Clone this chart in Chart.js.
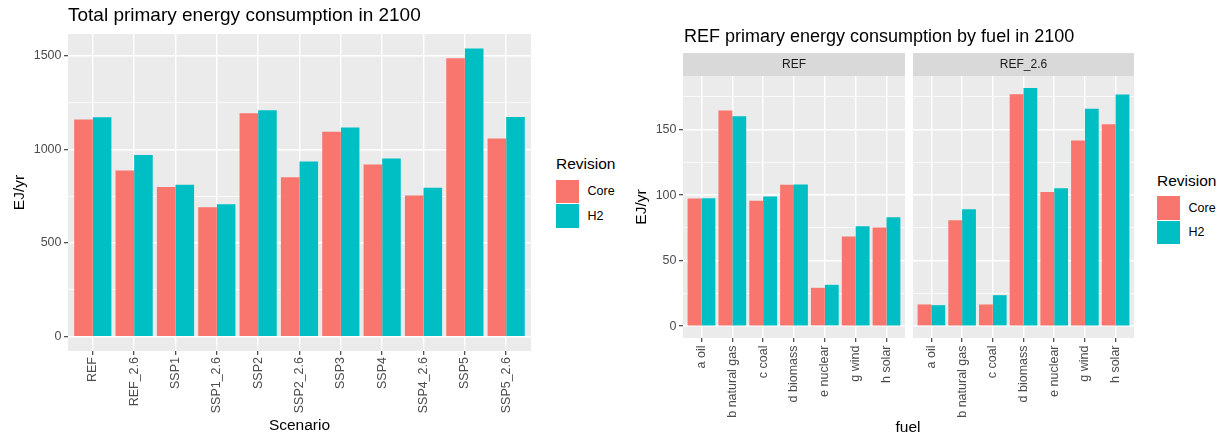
<!DOCTYPE html>
<html>
<head>
<meta charset="utf-8">
<script src="https://cdn.jsdelivr.net/npm/chart.js@4/dist/chart.umd.min.js"></script>
<style>
  html, body { margin: 0; padding: 0; background: #fff; }
  body { width: 1217px; height: 435px; position: relative; overflow: hidden;
         font-family: "Liberation Sans", Arial, sans-serif; }
  canvas { position: absolute; top: 0; }
  .txt { position: absolute; line-height: 1; white-space: nowrap; color: #000; }
  .key { position: absolute; width: 23px; height: 23.5px; }
</style>
</head>
<body>
<canvas id="totalChart" width="545" height="435" style="left:0px"></canvas>
<canvas id="fuelRefChart" width="290" height="435" style="left:620px"></canvas>
<canvas id="fuelRef26Chart" width="230" height="435" style="left:910px"></canvas>
<div class="txt" style="left:684px; top:26.5px; font-size:18px">REF primary energy consumption by fuel in 2100</div>
<div class="txt" style="left:908px; top:418.6px; font-size:15.5px; transform:translateX(-50%)">fuel</div>

<script>
// Total primary energy consumption in 2100 (EJ/yr), by scenario
const scenarios = ['REF', 'REF_2.6', 'SSP1', 'SSP1_2.6', 'SSP2', 'SSP2_2.6', 'SSP3', 'SSP4', 'SSP4_2.6', 'SSP5', 'SSP5_2.6'];
const totalCore = [1160, 888, 799, 691, 1193, 851, 1094, 919, 754, 1488, 1058];
const totalH2   = [1172, 971, 812, 707, 1210, 935, 1118, 952, 796, 1540, 1174];

// REF / REF_2.6 primary energy by fuel in 2100 (EJ/yr)
const fuels = ['a oil', 'b natural gas', 'c coal', 'd biomass', 'e nuclear', 'g wind', 'h solar'];
const refCore   = [97.3, 164.5, 95.7, 107.9, 29.2, 68.3, 75.2];
const refH2     = [97.5, 160.2, 99.0, 108.1, 31.5, 76.2, 83.0];
const ref26Core = [16.5, 80.7, 16.5, 176.9, 102.3, 141.7, 154.1];
const ref26H2   = [16.0, 89.1, 23.6, 181.8, 105.3, 165.8, 176.7];

// Axis ticks (major labelled, minor grid only)
const totalTicks = [0, 500, 1000, 1500];
const totalMinor = [250, 750, 1250];
const fuelTicks  = [0, 50, 100, 150];
const fuelMinor  = [25, 75, 125, 175];

const revisions = ['Core', 'H2'];
const revisionColors = ['#F8766D', '#00BFC4'];

const FONT = '"Liberation Sans", Arial, sans-serif';
Chart.defaults.font.family = FONT;

// Grey panel background plus optional facet strip above the plot area
const panelBg = {
  id: 'panelBg',
  beforeDraw(chart, args, opts) {
    const { ctx, chartArea: a } = chart;
    ctx.save();
    ctx.fillStyle = '#EBEBEB';
    ctx.fillRect(a.left, a.top, a.right - a.left, a.bottom - a.top);
    if (opts.strip) {
      ctx.fillStyle = '#D9D9D9';
      ctx.fillRect(a.left, a.top - 23, a.right - a.left, 23);
      ctx.fillStyle = '#1A1A1A';
      ctx.font = '12px ' + FONT;
      ctx.textAlign = 'center';
      ctx.textBaseline = 'middle';
      ctx.fillText(opts.strip, (a.left + a.right) / 2, a.top - 11.5);
    }
    ctx.restore();
  }
};

// ggplot-style 5% expansion of a continuous axis starting at zero
function expandedRange(values) {
  const max = Math.max(...values);
  return { min: -0.05 * max, max: 1.05 * max };
}

function yScale({ range, major, minor, width, titlePad, showLabels }) {
  const all = [...major, ...minor].sort((a, b) => a - b);
  const isMajor = c => c.tick && major.includes(c.tick.value);
  return {
    type: 'linear',
    min: range.min,
    max: range.max,
    afterBuildTicks: s => { s.ticks = all.map(v => ({ value: v })); },
    afterFit: s => { s.width = width; },
    border: { display: false },
    grid: {
      offset: false,
      color: '#FFFFFF',
      lineWidth: c => isMajor(c) ? 1.4 : 0.7,
      drawTicks: showLabels,
      tickLength: 4,
      tickWidth: 1.1,
      tickColor: c => isMajor(c) ? '#333333' : 'rgba(0,0,0,0)'
    },
    ticks: {
      display: showLabels,
      padding: 2.5,
      color: '#4D4D4D',
      font: { size: 12.5 },
      callback: v => major.includes(v) ? String(v) : ''
    },
    title: showLabels
      ? { display: true, text: 'EJ/yr', color: '#000', font: { size: 15.5 }, padding: { top: titlePad, bottom: 0 } }
      : { display: false }
  };
}

function xScale({ labels, height, padding, title }) {
  return {
    type: 'linear',
    min: -0.6,
    max: labels.length - 0.4,
    offset: false,
    afterBuildTicks: s => { s.ticks = labels.map((_, i) => ({ value: i })); },
    afterFit: s => { s.height = height; },
    border: { display: false },
    grid: { offset: false, color: '#FFFFFF', lineWidth: 1.4, drawTicks: true, tickLength: 4, tickWidth: 1.1, tickColor: '#333333' },
    ticks: {
      autoSkip: false, minRotation: 90, maxRotation: 90, padding,
      color: '#4D4D4D', font: { size: 12.5 },
      callback: v => labels[v]
    },
    title: title
      ? { display: true, text: title, color: '#000', font: { size: 15.5 }, padding: { top: 0, bottom: 0 } }
      : { display: false }
  };
}

function barSets(core, h2) {
  return [core, h2].map((vals, k) => ({
    label: revisions[k],
    data: vals.map((y, i) => ({ x: i, y })),
    backgroundColor: revisionColors[k],
    borderWidth: 0,
    categoryPercentage: 0.9,
    barPercentage: 1.0
  }));
}

function baseOptions() {
  return {
    responsive: false,
    animation: false,
    events: [],
    plugins: { legend: { display: false }, tooltip: { enabled: false } }
  };
}

// Left: totals by scenario
const totalOpts = baseOptions();
totalOpts.layout = { padding: { left: 0, right: 14, top: 0, bottom: 0 } };
totalOpts.plugins.title = {
  display: true, text: 'Total primary energy consumption in 2100',
  align: 'start', fullSize: false, color: '#000',
  font: { size: 19, weight: 'normal' }, padding: { top: 4.7, bottom: 6.5 }
};
totalOpts.plugins.panelBg = {};
totalOpts.scales = {
  x: xScale({ labels: scenarios, height: 84, padding: 2, title: 'Scenario' }),
  y: yScale({ range: expandedRange([...totalCore, ...totalH2]), major: totalTicks, minor: totalMinor,
              width: 68, titlePad: 10.7, showLabels: true })
};
new Chart(document.getElementById('totalChart'), {
  type: 'bar',
  data: { datasets: barSets(totalCore, totalH2) },
  options: totalOpts,
  plugins: [panelBg]
});

// Right: fuel breakdown, one facet per scenario with a shared y range
const fuelRange = expandedRange([...refCore, ...refH2, ...ref26Core, ...ref26H2]);

const refOpts = baseOptions();
refOpts.layout = { padding: { left: 0, right: 5, top: 76, bottom: 0 } };
refOpts.plugins.panelBg = { strip: 'REF' };
refOpts.scales = {
  x: xScale({ labels: fuels, height: 97, padding: 3.5 }),
  y: yScale({ range: fuelRange, major: fuelTicks, minor: fuelMinor, width: 63, titlePad: 12.7, showLabels: true })
};
new Chart(document.getElementById('fuelRefChart'), {
  type: 'bar',
  data: { datasets: barSets(refCore, refH2) },
  options: refOpts,
  plugins: [panelBg]
});

const ref26Opts = baseOptions();
ref26Opts.layout = { padding: { left: 3, right: 6, top: 76, bottom: 0 } };
ref26Opts.plugins.panelBg = { strip: 'REF_2.6' };
ref26Opts.scales = {
  x: xScale({ labels: fuels, height: 97, padding: 3.5 }),
  y: yScale({ range: fuelRange, major: fuelTicks, minor: fuelMinor, width: 0, titlePad: 0, showLabels: false })
};
new Chart(document.getElementById('fuelRef26Chart'), {
  type: 'bar',
  data: { datasets: barSets(ref26Core, ref26H2) },
  options: ref26Opts,
  plugins: [panelBg]
});

// Legends: "Revision" title with colour keys
function addLegend(left, keyTop) {
  const title = document.createElement('div');
  title.className = 'txt';
  title.style.cssText = `left:${left}px; top:${keyTop - 23.2}px; font-size:15.5px`;
  title.textContent = 'Revision';
  document.body.appendChild(title);
  revisions.forEach((name, k) => {
    const top = keyTop + k * 24.5;
    const key = document.createElement('div');
    key.className = 'key';
    key.style.cssText = `left:${left}px; top:${top}px; background:${revisionColors[k]}`;
    document.body.appendChild(key);
    const label = document.createElement('div');
    label.className = 'txt';
    label.style.cssText = `left:${left + 31.5}px; top:${top + 11.75 - 6.1}px; font-size:12.5px`;
    label.textContent = name;
    document.body.appendChild(label);
  });
}
addLegend(556, 179.5);
addLegend(1157, 196);
</script>
</body>
</html>
